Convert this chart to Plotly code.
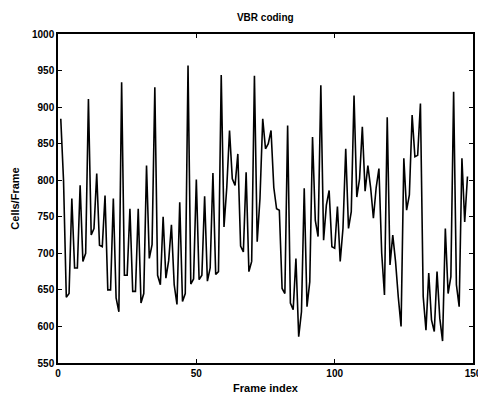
import plotly.graph_objects as go

frame_index = list(range(1, 149))
cells_per_frame = [
    884, 800, 640, 645, 775, 680, 680, 793, 689, 700,   # 1-10
    911, 725, 734, 809, 711, 709, 779, 650, 650, 775,   # 11-20
    639, 620, 934, 670, 670, 761, 648, 648, 761, 632,   # 21-30
    645, 820, 693, 712, 927, 670, 657, 750, 666, 690,   # 31-40
    739, 657, 630, 770, 634, 645, 957, 658, 665, 801,   # 41-50
    664, 670, 778, 662, 680, 810, 671, 675, 944, 736,   # 51-60
    790, 868, 802, 793, 836, 710, 702, 811, 675, 689,   # 61-70
    943, 716, 775, 884, 843, 850, 868, 790, 761, 759,   # 71-80
    652, 645, 875, 632, 623, 693, 586, 620, 789, 627,   # 81-90
    661, 859, 745, 723, 930, 718, 766, 786, 709, 707,   # 91-100
    764, 689, 734, 843, 734, 757, 916, 777, 802, 873,   # 101-110
    785, 820, 790, 748, 790, 816, 700, 643, 886, 684,   # 111-120
    725, 689, 640, 600, 830, 759, 780, 889, 832, 834,   # 121-130
    905, 641, 595, 673, 609, 593, 675, 611, 580, 734,   # 131-140
    645, 668, 921, 657, 627, 830, 743, 805,             # 141-148
]

x_ticks = [0, 50, 100, 150]
y_ticks = [550, 600, 650, 700, 750, 800, 850, 900, 950, 1000]

fig = go.Figure()
fig.add_trace(go.Scatter(
    x=frame_index, y=cells_per_frame, mode="lines",
    line=dict(color="black", width=1.6), showlegend=False,
))

font_family = "Liberation Sans, Arial, sans-serif"
label_font = dict(family=font_family, size=11, color="black", weight="bold")
axis_common = dict(
    showgrid=False, zeroline=False, showline=True, linecolor="black",
    linewidth=1.5, mirror="ticks", ticks="inside", ticklen=4,
    tickcolor="black", tickwidth=1, automargin=False,
    ticklabeloverflow="allow",
    tickfont=dict(family=font_family, size=10, color="black", weight="bold"),
)

fig.update_layout(
    width=478, height=394,
    margin=dict(l=58, r=5, t=34, b=31, autoexpand=False),
    paper_bgcolor="white", plot_bgcolor="white",
    title=dict(text="VBR coding", x=0.555, xanchor="center", y=0.955, yanchor="middle",
               automargin=False,
               font=dict(family=font_family, size=10, color="black", weight="bold")),
    xaxis=dict(range=[0, 150], tickvals=x_ticks,
               title=dict(text="Frame index", standoff=8, font=label_font),
               **axis_common),
    yaxis=dict(range=[550, 1000], tickvals=y_ticks,
               title=dict(text="Cells/Frame", standoff=10, font=label_font),
               **axis_common),
)

post_js = (
    "document.documentElement.style.margin='0';"
    "document.body.style.margin='0';"
    "document.body.style.padding='0';"
    "document.body.style.overflow='hidden';"
)

fig.write_html("out.html", post_script=post_js, config={"displayModeBar": False})
